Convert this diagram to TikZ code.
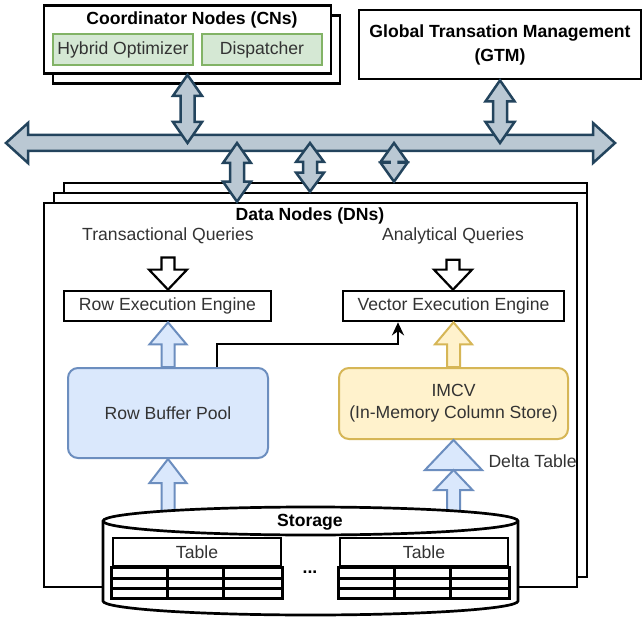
\documentclass[tikz,border=0pt]{standalone}
\usepackage{fontspec}
\setmainfont{Liberation Sans}
\usetikzlibrary{calc,arrows.meta}

\definecolor{busfill}{HTML}{BAC8D3}
\definecolor{busline}{HTML}{23445D}
\definecolor{grfill}{HTML}{D5E8D4}
\definecolor{grline}{HTML}{82B366}
\definecolor{blfill}{HTML}{DAE8FC}
\definecolor{blline}{HTML}{6C8EBF}
\definecolor{yefill}{HTML}{FFF2CC}
\definecolor{yeline}{HTML}{D6B656}
\definecolor{txt}{HTML}{333333}

\newcommand{\diagfont}{\fontsize{17.6}{22}\selectfont}

% block arrow: [style]{from}{tip}{shaft half}{head half}{head length}
\newcommand{\fatarrow}[6][]{%
  \draw[#1] let \p1=#2, \p2=#3, \p3=($#3!#6pt!#2$) in
    (\x1-#4pt,\y1) -- (\x1-#4pt,\y3) -- (\x1-#5pt,\y3) -- (\x2,\y2)
    -- (\x1+#5pt,\y3) -- (\x1+#4pt,\y3) -- (\x1+#4pt,\y1) -- cycle;}
% vertical double block arrow: [style]{top tip}{bottom tip}{shaft half}{head half}{head length}
\newcommand{\dblarrow}[6][]{%
  \draw[#1] let \p1=#2, \p2=#3 in
    (\x1,\y1) -- (\x1+#5pt,\y1-#6pt) -- (\x1+#4pt,\y1-#6pt) -- (\x1+#4pt,\y2+#6pt)
    -- (\x1+#5pt,\y2+#6pt) -- (\x1,\y2) -- (\x1-#5pt,\y2+#6pt) -- (\x1-#4pt,\y2+#6pt)
    -- (\x1-#4pt,\y1-#6pt) -- (\x1-#5pt,\y1-#6pt) -- cycle;}

\begin{document}
\begin{tikzpicture}[x=1pt,y=-1pt,
  every node/.style={font=\diagfont},
  frame/.style={draw,line width=2.7pt,fill=white},
  ttl/.style={font=\diagfont\bfseries},
  lbl/.style={text=txt},
  part/.style={draw=grline,fill=grfill,line width=2pt,text=txt,minimum height=31pt,inner sep=0pt},
  engine/.style={frame,text=txt,minimum height=30pt,inner sep=0pt},
  pool/.style={draw=blline,fill=blfill,line width=2pt,rounded corners=10pt,text=txt,align=center},
  imcvbox/.style={draw=yeline,fill=yefill,line width=2pt,rounded corners=10pt,text=txt,align=center},
  bus/.style={draw=busline,fill=busfill,line width=2.5pt},
  hollow/.style={draw,fill=white,line width=2.2pt},
  blu/.style={draw=blline,fill=blfill,line width=2pt},
  yel/.style={draw=yeline,fill=yefill,line width=2pt},
  link/.style={line width=2.5pt,-{Stealth[length=13pt,width=12pt]}},
  tline/.style={line width=2.7pt},
  cyl/.style={line width=2.7pt,fill=white}]
\useasboundingbox (0,0) rectangle (642,617);

% coordinator nodes
\node[frame,minimum width=287pt,minimum height=68pt] (cn2) at (196.5,49.5) {};
\node[frame,minimum width=287pt,minimum height=68pt] (cn) at (187.5,39.5) {};
\node[ttl] (cnt) at (192,20) {Coordinator Nodes (CNs)};
\node[part,minimum width=140pt] (ho) at (123,49.5) {Hybrid Optimizer};
\node[part,minimum width=120pt] (dp) at (262,49.5) {Dispatcher};

% gtm
\node[frame,ttl,align=center,minimum width=282pt,minimum height=69pt] (gtm) at (500,44.5)
  {Global Transation Management\\[2pt](GTM)};

% data nodes
\node[frame,minimum width=523pt,minimum height=384pt] (dn3) at (325.5,375) {};
\node[frame,minimum width=533pt,minimum height=384pt] (dn2) at (320.5,385) {};
\node[frame,minimum width=533pt,minimum height=384pt] (dn1) at (310.5,395) {};
\node[ttl] (dnt) at (310,216) {Data Nodes (DNs)};
\node[lbl] (tq) at (168,236) {Transactional Queries};
\node[lbl] (aq) at (453,236) {Analytical Queries};

% bus
\coordinate (busL) at (6,143);
\coordinate (busR) at (615,143);
\draw[bus] let \p1=(busL), \p2=(busR) in
  (\x1,\y1) -- (\x1+22pt,\y1+20pt) -- (\x1+22pt,\y1+8pt) -- (\x2-22pt,\y2+8pt)
  -- (\x2-22pt,\y2+20pt) -- (\x2,\y2) -- (\x2-22pt,\y2-20pt) -- (\x2-22pt,\y2-8pt)
  -- (\x1+22pt,\y1-8pt) -- (\x1+22pt,\y1-20pt) -- cycle;
\coordinate (p1) at (237,143);
\coordinate (p2) at (310,143);
\coordinate (p3) at (394,143);
\dblarrow[bus]{(cn.south)}{(cn.south |- busL)}{7}{14.5}{21}
\dblarrow[bus]{(gtm.south)}{(gtm.south |- busL)}{7}{14.5}{21}
\dblarrow[bus]{(p1)}{(p1 |- dn1.north)}{7}{14}{20}
\dblarrow[bus]{(p2)}{(p2 |- dn2.north)}{7}{14}{19}
\dblarrow[bus]{(p3)}{(p3 |- dn3.north)}{4.5}{13.5}{19}

% engines and stores
\node[engine,minimum width=207pt] (ree) at (167.5,306) {Row Execution Engine};
\node[engine,minimum width=221pt] (vee) at (453.5,306) {Vector Execution Engine};
\node[pool,minimum width=200pt,minimum height=90pt] (rbp) at (168,413) {Row Buffer Pool};
\node[imcvbox,minimum width=229pt,minimum height=71pt] (imcv) at (453.5,403.5)
  {IMCV\\(In-Memory Column Store)};

\path (tq.south) ++(0,10) coordinate (tqa);
\path (aq.south) ++(0,12) coordinate (aqa);
\fatarrow[hollow]{(tqa)}{(tqa |- ree.north)}{6.5}{19}{20}
\fatarrow[hollow]{(aqa)}{(aqa |- vee.north)}{6.5}{19}{20}
\fatarrow[blu]{(rbp.north)}{(rbp.north |- ree.south)}{6.5}{18.5}{22}
\fatarrow[yel]{(imcv.north)}{(imcv.north |- vee.south)}{6.5}{18.5}{22}
\draw[link] ([xshift=49pt]rbp.north) -- ++(0,-23) -| ([xshift=-55.5pt]vee.south);

% delta table
\draw[blu] (imcv.south) -- ++(28.5,30) -- ++(-57,0) -- cycle;
\path (imcv.south) ++(0,30) coordinate (dt);
\node[lbl,anchor=west] (dtl) at (485,461) {Delta Table};

% storage
\coordinate (st) at (310.5,521);
\fatarrow[blu]{(st -| rbp.south)}{(rbp.south)}{6.5}{18.5}{24}
\fatarrow[blu]{(st -| dt)}{(dt)}{6.5}{19}{20}
\draw[cyl] (103,521) -- (103,601) arc[start angle=180,end angle=360,x radius=207.5pt,y radius=14pt]
  -- (518,521) arc[start angle=0,end angle=180,x radius=207.5pt,y radius=14pt] -- cycle;
\draw[tline] (103,521) arc[start angle=180,end angle=360,x radius=207.5pt,y radius=14pt];
\node[ttl] (stt) at (310,522) {Storage};

\node[frame,text=txt,minimum width=168pt,minimum height=28pt,inner sep=0pt] (t1) at (197,552) {Table};
\node[frame,text=txt,minimum width=168pt,minimum height=28pt,inner sep=0pt] (t2) at (424,552) {Table};
\foreach \t in {t1,t2} {
  \draw[tline] (\t.south west) rectangle ([yshift=-31pt]\t.south east);
  \draw[tline] ([yshift=-11pt]\t.south west) -- ([yshift=-11pt]\t.south east)
    ([yshift=-21pt]\t.south west) -- ([yshift=-21pt]\t.south east)
    ([xshift=56pt]\t.south west) -- ([xshift=56pt,yshift=-31pt]\t.south west)
    ([xshift=112pt]\t.south west) -- ([xshift=112pt,yshift=-31pt]\t.south west);
}
\node[ttl] (dots) at (310,572) {...};
\end{tikzpicture}
\end{document}
